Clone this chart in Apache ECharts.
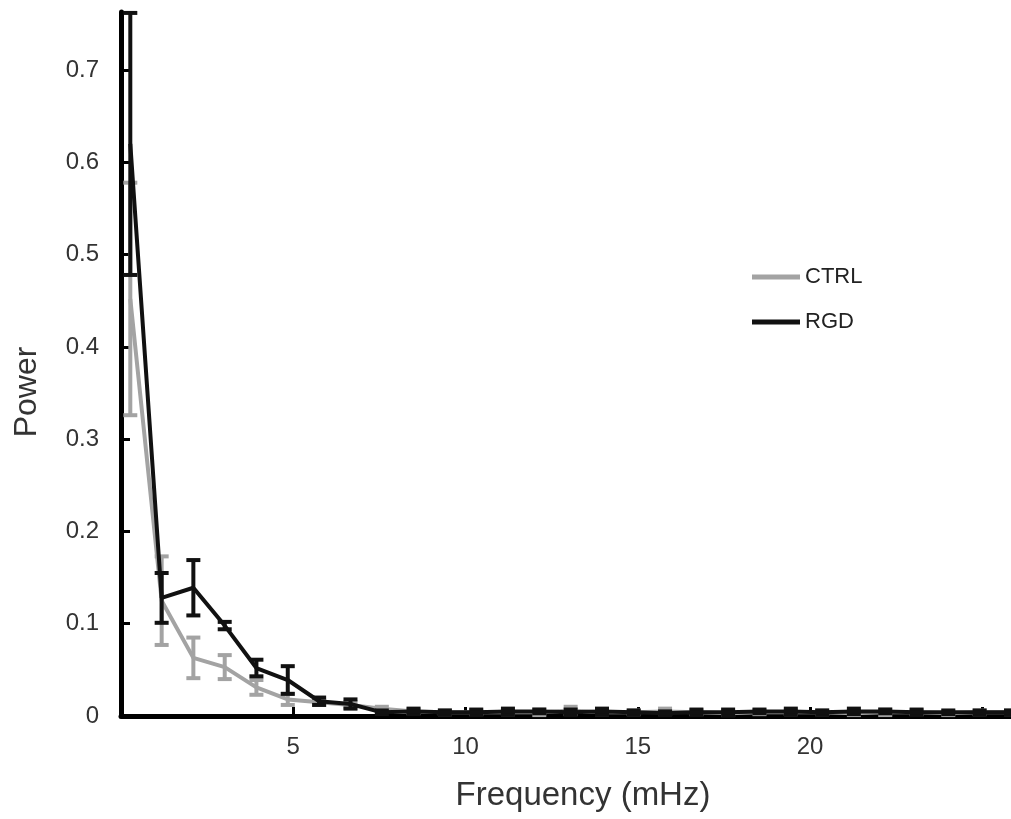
<!DOCTYPE html>
<html>
<head>
<meta charset="utf-8">
<script src="https://cdn.jsdelivr.net/npm/echarts@6/dist/echarts.min.js"></script>
<style>
  html, body { margin: 0; padding: 0; background: #fff; }
  #chart { width: 1011px; height: 819px; }
</style>
</head>
<body>
<div id="chart"></div>
<script>
// frequency bins (mHz)
var freq = [0.27, 1.18, 2.10, 3.01, 3.93, 4.84, 5.75, 6.66, 7.57, 8.49, 9.40, 10.31, 11.23, 12.14, 13.05,
            13.96, 14.88, 15.79, 16.70, 17.62, 18.53, 19.44, 20.35, 21.27, 22.18, 23.09, 24.01, 24.92, 25.83];
var ctrlMean = [0.452, 0.125, 0.063, 0.053, 0.031, 0.018, 0.015, 0.012, 0.008, 0.005, 0.004, 0.004, 0.004, 0.004, 0.006,
                0.004, 0.004, 0.005, 0.004, 0.003, 0.004, 0.004, 0.004, 0.003, 0.004, 0.004, 0.003, 0.004, 0.004];
var ctrlErr = [0.126, 0.048, 0.022, 0.013, 0.008, 0.006, 0.003, 0.003, 0.002, 0.002, 0.002, 0.002, 0.002, 0.003, 0.004,
               0.002, 0.002, 0.003, 0.002, 0.002, 0.002, 0.002, 0.002, 0.002, 0.003, 0.002, 0.002, 0.002, 0.002];
var rgdMean = [0.620, 0.128, 0.139, 0.098, 0.052, 0.039, 0.016, 0.013, 0.004, 0.005, 0.004, 0.004, 0.005, 0.005, 0.004,
               0.005, 0.004, 0.003, 0.004, 0.004, 0.005, 0.005, 0.004, 0.005, 0.005, 0.004, 0.004, 0.004, 0.004];
var rgdErr = [0.142, 0.027, 0.030, 0.004, 0.009, 0.015, 0.004, 0.005, 0.002, 0.003, 0.002, 0.003, 0.003, 0.002, 0.003,
              0.003, 0.002, 0.002, 0.003, 0.003, 0.002, 0.003, 0.002, 0.003, 0.002, 0.003, 0.002, 0.002, 0.002];
var xTicks = [5, 10, 15, 20];
var yTicks = [0, 0.1, 0.2, 0.3, 0.4, 0.5, 0.6, 0.7];

var GRAY = "#a3a3a3";
var BLACK = "#111111";

function lineData(mean) {
    return freq.map(function (f, i) { return [f, mean[i]]; });
}
function errData(mean, err) {
    return freq.map(function (f, i) { return [f, mean[i] - err[i], mean[i] + err[i]]; });
}
function errorBars(color) {
    return function (params, api) {
        var lo = api.coord([api.value(0), api.value(1)]);
        var hi = api.coord([api.value(0), api.value(2)]);
        var w = 7;
        var style = { stroke: color, lineWidth: 4, fill: null };
        return {
            type: "group",
            children: [
                { type: "line", shape: { x1: lo[0], y1: lo[1], x2: hi[0], y2: hi[1] }, style: style },
                { type: "line", shape: { x1: lo[0] - w, y1: lo[1], x2: lo[0] + w, y2: lo[1] }, style: style },
                { type: "line", shape: { x1: hi[0] - w, y1: hi[1], x2: hi[0] + w, y2: hi[1] }, style: style }
            ]
        };
    };
}

var myChart = echarts.init(document.getElementById("chart"));
myChart.setOption({
    animation: false,
    backgroundColor: "#fff",
    textStyle: { fontFamily: "Liberation Sans" },
    grid: { left: 121, right: 0, top: 12, bottom: 103 },
    legend: {
        data: ["CTRL", "RGD"],
        orient: "vertical",
        left: 752,
        top: 266,
        padding: 0,
        itemWidth: 48,
        itemHeight: 5,
        itemGap: 23,
        icon: "rect",
        textStyle: { color: "#222", fontSize: 22, fontFamily: "Liberation Sans" }
    },
    xAxis: {
        type: "value",
        min: 0,
        max: 25.83,
        interval: 5,
        name: "Frequency (mHz)",
        nameLocation: "middle",
        nameGap: 63,
        nameTextStyle: { color: "#333", fontSize: 33, padding: [0, 0, 0, 34] },
        axisLine: { show: true, lineStyle: { color: "#000", width: 5 } },
        axisTick: { show: true, inside: true, length: 9, lineStyle: { color: "#000", width: 3 } },
        axisLabel: {
            color: "#333", fontSize: 24, margin: 19,
            showMinLabel: false, showMaxLabel: false,
            formatter: function (v) { return xTicks.indexOf(v) >= 0 ? String(v) : ""; }
        },
        splitLine: { show: false }
    },
    yAxis: {
        type: "value",
        min: 0,
        max: 0.763,
        interval: 0.1,
        name: "Power",
        nameLocation: "middle",
        nameGap: 78,
        nameTextStyle: { color: "#333", fontSize: 32, padding: [0, 56, 0, 0] },
        axisLine: { show: true, lineStyle: { color: "#000", width: 5 } },
        axisTick: { show: true, inside: true, length: 9, lineStyle: { color: "#000", width: 3 } },
        axisLabel: {
            color: "#333", fontSize: 24, margin: 22, showMaxLabel: false,
            formatter: function (v) {
                var r = Math.round(v * 10) / 10;
                return yTicks.indexOf(r) >= 0 && Math.abs(r - v) < 1e-6 ? (r === 0 ? "0" : r.toFixed(1)) : "";
            }
        },
        splitLine: { show: false }
    },
    series: [
        {
            name: "CTRL err",
            type: "custom",
            renderItem: errorBars(GRAY),
            encode: { x: 0, y: [1, 2] },
            data: errData(ctrlMean, ctrlErr),
            z: 2
        },
        {
            name: "CTRL",
            type: "line",
            data: lineData(ctrlMean),
            symbol: "none",
            color: GRAY,
            lineStyle: { color: GRAY, width: 4 },
            z: 3
        },
        {
            name: "RGD err",
            type: "custom",
            renderItem: errorBars(BLACK),
            encode: { x: 0, y: [1, 2] },
            data: errData(rgdMean, rgdErr),
            z: 4
        },
        {
            name: "RGD",
            type: "line",
            data: lineData(rgdMean),
            symbol: "none",
            color: BLACK,
            lineStyle: { color: BLACK, width: 4 },
            z: 5
        }
    ]
});
</script>
</body>
</html>
